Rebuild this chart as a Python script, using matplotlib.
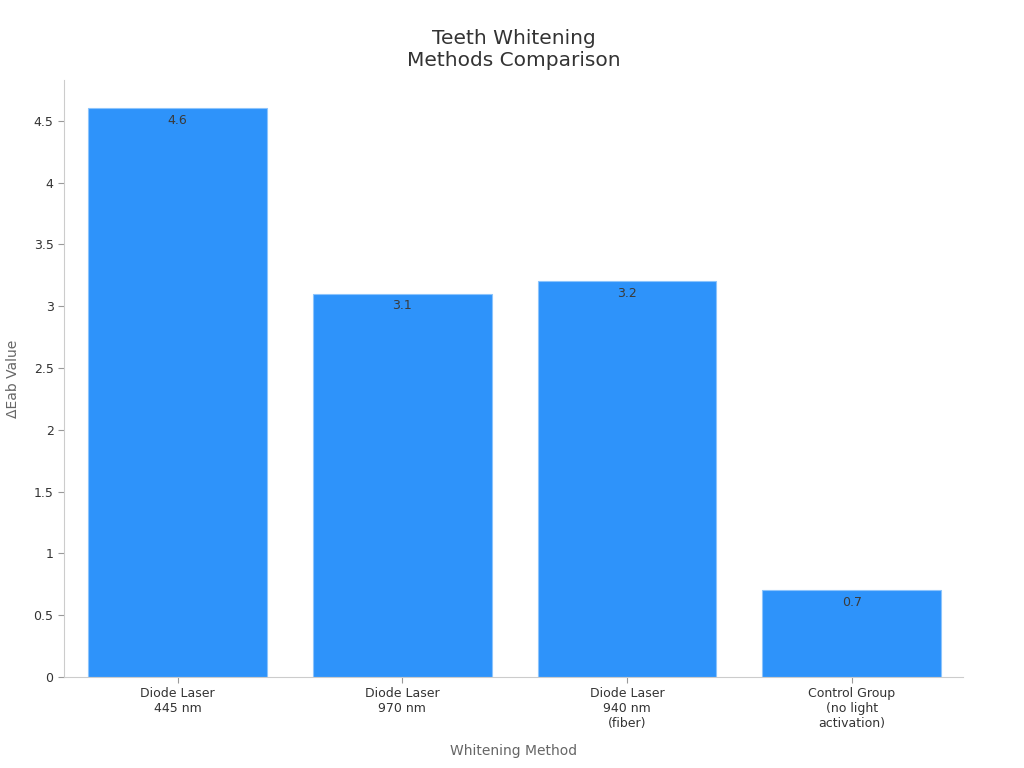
import matplotlib.pyplot as plt

categories = ["Diode Laser\n445 nm", "Diode Laser\n970 nm", "Diode Laser\n940 nm\n(fiber)",
              "Control Group\n(no light\nactivation)"]
values = [4.6, 3.1, 3.2, 0.7]
yticks = [0, 0.5, 1, 1.5, 2, 2.5, 3, 3.5, 4, 4.5]
ytick_labels = ["0", "0.5", "1", "1.5", "2", "2.5", "3", "3.5", "4", "4.5"]

plt.rcParams['font.family'] = ['DejaVu Sans']

fig = plt.figure(figsize=(10.24, 7.68), dpi=100)
ax = fig.add_axes([0.0625, 0.1185, 0.878, 0.7773])

x = range(len(categories))
bars = ax.bar(x, values, width=0.795, color="#2E93FA", edgecolor="#8CC4FC", linewidth=0.8)

for b, v in zip(bars, values):
    ax.text(b.get_x() + b.get_width() / 2, v - 0.045, f"{v}", ha="center", va="top",
            fontsize=9, color="#3a3a3a")

ax.set_xlim(-0.505, 3.495)
ax.set_ylim(0, 4.83)
ax.set_xticks(list(x))
ax.set_xticklabels(categories, fontsize=9, color="#333333")
ax.set_yticks(yticks)
ax.set_yticklabels(ytick_labels, fontsize=9, color="#333333")
ax.tick_params(axis="both", length=4, color="#999999")
ax.tick_params(axis="x", pad=3)

for s in ["top", "right"]:
    ax.spines[s].set_visible(False)
for s in ["left", "bottom"]:
    ax.spines[s].set_color("#cccccc")

ax.set_xlabel("Whitening Method", fontsize=10, color="#666666", labelpad=10)
ax.set_ylabel("ΔEab Value", fontsize=10, color="#666666", labelpad=10)
ax.set_title("Teeth Whitening\nMethods Comparison", fontsize=14.5, color="#333333", pad=10)

fig.savefig("out.png", dpi=100)
